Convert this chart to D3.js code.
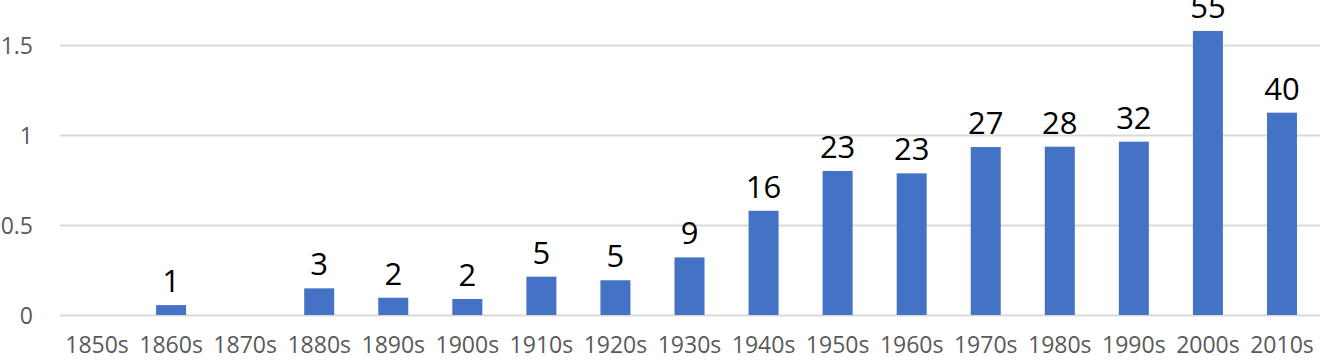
<!DOCTYPE html>
<html>
<head>
<meta charset="utf-8">
<script src="https://cdn.jsdelivr.net/npm/d3@7"></script>
<style>
  html, body { margin: 0; padding: 0; background: #fff; }
  svg { display: block; }
</style>
</head>
<body>
<svg id="chart" width="1320" height="360"></svg>
<script>
const decades = ["1850s","1860s","1870s","1880s","1890s","1900s","1910s","1920s","1930s","1940s","1950s","1960s","1970s","1980s","1990s","2000s","2010s"];
const values = [null, 0.055, null, 0.148, 0.096, 0.089, 0.213, 0.193, 0.32, 0.579, 0.80, 0.787, 0.933, 0.935, 0.963, 1.578, 1.124];
const counts = [null, 1, null, 3, 2, 2, 5, 5, 9, 16, 23, 23, 27, 28, 32, 55, 40];
const yTicks = [0, 0.5, 1, 1.5];

const svg = d3.select("#chart");
const left = 60, right = 1319, zeroY = 315, pxPerUnit = 180;

const x = d3.scaleBand().domain(decades).range([left, right]).padding(0);
const y = d3.scaleLinear().domain([0, 1.5]).range([zeroY, zeroY - 1.5 * pxPerUnit]);

// gridlines
svg.append("g")
  .attr("transform", `translate(${left},0)`)
  .call(d3.axisLeft(y).tickValues(yTicks).tickSize(-(1320 - left)).tickFormat(d3.format("")))
  .call(g => g.select(".domain").remove())
  .call(g => g.selectAll(".tick line").attr("stroke", "#d9d9d9").attr("stroke-width", 2))
  .call(g => g.selectAll(".tick text")
      .attr("x", 33 - left)
      .attr("dy", "0.36em")
      .attr("fill", "#595959")
      .attr("font-family", "'Open Sans', sans-serif")
      .attr("font-size", 23)
      .attr("text-anchor", "end"));

// x axis labels
svg.append("g")
  .attr("transform", `translate(0,${zeroY})`)
  .call(d3.axisBottom(x).tickSize(0).tickPadding(0))
  .call(g => g.select(".domain").remove())
  .call(g => g.selectAll(".tick text")
      .attr("y", 38)
      .attr("dy", 0)
      .attr("fill", "#595959")
      .attr("font-family", "'Open Sans', sans-serif")
      .attr("font-size", 23));

const barW = 30;
const data = decades.map((d, i) => ({ d, v: values[i], c: counts[i] })).filter(o => o.v !== null);

svg.append("g").selectAll("rect").data(data).join("rect")
  .attr("x", o => x(o.d) + x.bandwidth() / 2 - barW / 2)
  .attr("width", barW)
  .attr("y", o => y(o.v))
  .attr("height", o => y(0) - y(o.v))
  .attr("fill", "#4472c4");

svg.append("g").selectAll("text").data(data).join("text")
  .attr("x", o => x(o.d) + x.bandwidth() / 2)
  .attr("y", o => y(o.v) - 13)
  .attr("text-anchor", "middle")
  .attr("fill", "#000")
  .attr("font-family", "'Open Sans', sans-serif")
  .attr("font-size", 31)
  .text(o => o.c);
</script>
</body>
</html>
